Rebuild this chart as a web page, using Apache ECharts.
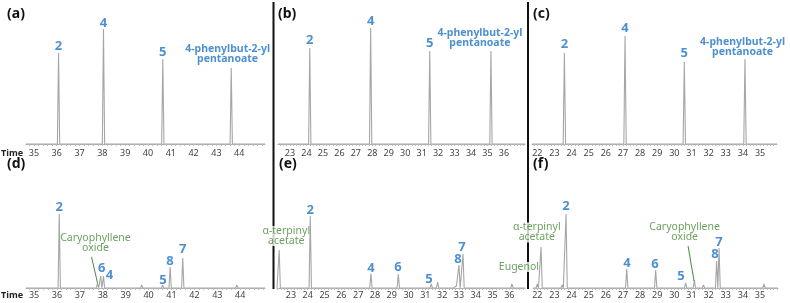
<!DOCTYPE html>
<html>
<head>
    <meta charset="utf-8">
    <title>GC chromatograms</title>
    <style>
        html, body { margin: 0; padding: 0; background: #fff; }
        #chart { width: 790px; height: 303px; }
    </style>
</head>
<body>
    <div id="chart"></div>
    <script src="https://cdn.jsdelivr.net/npm/echarts@6/dist/echarts.min.js"></script>
    <script>
        var chart = echarts.init(document.getElementById('chart'));

        // tick labels (retention time, min)
        var ticksA = [35, 36, 37, 38, 39, 40, 41, 42, 43, 44];
        var ticksB = [23, 24, 25, 26, 27, 28, 29, 30, 31, 32, 33, 34, 35, 36];
        var ticksC = [22, 23, 24, 25, 26, 27, 28, 29, 30, 31, 32, 33, 34, 35];
        var ticksD = [35, 36, 37, 38, 39, 40, 41, 42, 43, 44];
        var ticksE = [23, 24, 25, 26, 27, 28, 29, 30, 31, 32, 33, 34, 35, 36];
        var ticksF = [22, 23, 24, 25, 26, 27, 28, 29, 30, 31, 32, 33, 34, 35];

        // peaks: retention time and height (arbitrary units)
        var timeA = [36.08, 38.05, 40.65, 43.65];
        var heightA = [91, 115, 85, 76];
        var timeB = [24.2, 27.9, 31.49, 35.21];
        var heightB = [96, 116, 93, 93];
        var timeC = [23.58, 27.12, 30.58, 34.12];
        var heightC = [91, 108, 82, 85];
        var timeD = [36.1, 37.77, 37.91, 38.03, 39.7, 40.61, 40.94, 41.49, 42.4, 43.85, 43.95];
        var heightD = [74, 5, 12, 12, 3, 3, 21, 30, 1.5, 3, 2];
        var timeE = [22.3, 23.5, 24.15, 27.2, 27.76, 28.9, 29.39, 31.35, 31.73, 32.6, 32.85, 33.0, 33.24, 36.15];
        var heightE = [38, 2, 72, 1.5, 14.5, 1.5, 14, 4, 6, 2, 2, 23, 34, 4];
        var timeF = [22.0, 22.22, 23.45, 23.68, 27.22, 28.91, 30.66, 31.17, 31.7, 32.47, 32.61, 35.23];
        var heightF = [4, 41, 3, 74, 19, 18, 5, 8, 3, 27, 40, 4];

        // peak labels: text and anchor (time, height)
        var numA = ['2', '4', '5'];     var numAx = [36.08, 38.05, 40.65]; var numAy = [98, 121, 92];
        var numB = ['2', '4', '5'];     var numBx = [24.2, 27.9, 31.49];   var numBy = [104, 123, 101];
        var numC = ['2', '4', '5'];     var numCx = [23.58, 27.12, 30.58]; var numCy = [100, 116, 91];
        var numD = ['2', '6', '4', '5', '8', '7'];
        var numDx = [36.1, 37.95, 38.29, 40.63, 40.93, 41.49];
        var numDy = [81, 20, 13, 8, 27, 39];
        var numE = ['2', '4', '6', '5', '8', '7'];
        var numEx = [24.14, 27.76, 29.37, 31.21, 32.94, 33.18];
        var numEy = [78, 20, 21, 9, 29, 41];
        var numF = ['2', '4', '6', '5', '8', '7'];
        var numFx = [23.67, 27.24, 28.87, 30.39, 32.37, 32.6];
        var numFy = [82, 25, 24, 12, 34, 46];

        var stdName = '4-phenylbut-2-yl\npentanoate';
        var stdX = [43.49, 34.54, 33.98];
        var stdY = [90, 105.5, 96.5];

        var greenD = ['Caryophyllene\noxide'];            var greenDx = [37.68];        var greenDy = [45];
        var greenE = ['α-terpinyl\nacetate'];             var greenEx = [22.72];        var greenEy = [52];
        var greenF = ['α-terpinyl\nacetate', 'Eugenol', 'Caryophyllene\noxide'];
        var greenFx = [21.97, 20.93, 30.6];
        var greenFy = [55.5, 21, 55.5];

        // arrows: [fromTime, fromHeight, toTime, toHeight]
        var arrowsD = [[37.51, 31, 37.77, 5]];
        var arrowsF = [[21.71, 16, 21.98, 4], [30.8, 42, 31.15, 7]];

        var blue = '#1f74c6';
        var green = '#458a36';
        var font = 'Noto Sans';

        var panels = [
            { tag: '(a)', tagLeft: 7, left: 22, width: 243, top: 0, height: 144, min: 34.655, max: 45.13, w: 0.05,
              ticks: ticksA, t: timeA, h: heightA, n: numA, nx: numAx, ny: numAy, std: 0, time: true },
            { tag: '(b)', tagLeft: 278, left: 278, width: 247, top: 0, height: 144, min: 22.27, max: 37.28, w: 0.07,
              ticks: ticksB, t: timeB, h: heightB, n: numB, nx: numBx, ny: numBy, std: 1 },
            { tag: '(c)', tagLeft: 533, left: 532, width: 245, top: 0, height: 144, min: 21.69, max: 35.99, w: 0.07,
              ticks: ticksC, t: timeC, h: heightC, n: numC, nx: numCx, ny: numCy, std: 2 },
            { tag: '(d)', tagLeft: 7, left: 24, width: 241, top: 150, height: 138, min: 34.65, max: 45.08, w: 0.05,
              ticks: ticksD, t: timeD, h: heightD, n: numD, nx: numDx, ny: numDy, time: true,
              g: greenD, gx: greenDx, gy: greenDy, arrows: arrowsD },
            { tag: '(e)', tagLeft: 279, left: 277, width: 248, top: 150, height: 138, min: 22.17, max: 36.93, w: 0.07,
              ticks: ticksE, t: timeE, h: heightE, n: numE, nx: numEx, ny: numEy,
              g: greenE, gx: greenEx, gy: greenEy, arrows: [] },
            { tag: '(f)', tagLeft: 533, left: 533, width: 245, top: 150, height: 138, min: 21.75, max: 36.05, w: 0.07,
              ticks: ticksF, t: timeF, h: heightF, n: numF, nx: numFx, ny: numFy,
              g: greenF, gx: greenFx, gy: greenFy, arrows: arrowsF }
        ];

        // narrow triangular peak on a flat baseline
        function peakLine(times, heights, min, max, w) {
            var order = times.map(function (t, i) { return i; }).sort(function (a, b) { return times[a] - times[b]; });
            var pts = [[min, 0]];
            order.forEach(function (i) {
                pts.push([times[i] - w, 0], [times[i], heights[i]], [times[i] + w, 0]);
            });
            pts.push([max, 0]);
            return pts;
        }

        function minorTicks(min, max) {
            var res = [];
            for (var k = Math.ceil(min * 5); k <= Math.floor(max * 5); k++) res.push(k / 5);
            return res;
        }

        var grid = [], xAxis = [], yAxis = [], series = [], title = [];

        panels.forEach(function (p, i) {
            grid.push({ left: p.left, top: p.top, width: p.width, height: p.height });
            title.push({
                text: p.tag, left: p.tagLeft, top: p.top + 7, padding: 0,
                textStyle: { fontSize: 14, fontWeight: 'bold', color: '#111', fontFamily: font }
            });
            xAxis.push({
                type: 'value', gridIndex: i, min: p.min, max: p.max,
                name: p.time ? 'Time' : '', nameLocation: 'start', nameGap: 3,
                nameTextStyle: { fontSize: 9, fontWeight: 'bold', color: '#222', fontFamily: font,
                                 verticalAlign: 'top', padding: [p.top ? 3 : 5, 0, 0, 0] },
                axisLine: { show: true, lineStyle: { color: '#b0b0b0', width: 1 } },
                axisTick: { show: true, customValues: minorTicks(p.min, p.max), length: 2,
                            lineStyle: { color: '#bdbdbd', width: 1 } },
                axisLabel: { customValues: p.ticks, fontSize: 9, color: '#444', fontFamily: font,
                             margin: p.top ? 3 : 5 },
                splitLine: { show: false }
            });
            yAxis.push({ type: 'value', gridIndex: i, min: 0, max: p.height, show: false });

            series.push({
                type: 'line', xAxisIndex: i, yAxisIndex: i, silent: true, z: 3,
                symbol: 'none', animation: false,
                lineStyle: { color: '#a6a6a6', width: 1.1 },
                data: peakLine(p.t, p.h, p.min, p.max, p.w)
            });

            var numData = p.n.map(function (name, k) { return { name: name, value: [p.nx[k], p.ny[k]] }; });
            if (p.std !== undefined) {
                numData.push({
                    name: stdName, value: [stdX[p.std], stdY[p.std]],
                    label: { fontSize: 10.5, lineHeight: 10 }
                });
            }
            series.push({
                type: 'scatter', xAxisIndex: i, yAxisIndex: i, silent: true, clip: false,
                symbolSize: 0, animation: false, z: 5,
                label: { show: true, position: 'inside', formatter: '{b}', color: blue,
                         fontFamily: font, fontWeight: 'bold', fontSize: 13 },
                data: numData
            });

            if (p.g) {
                // green annotations sit under the traces but over the panel dividers
                series.push({
                    type: 'scatter', xAxisIndex: i, yAxisIndex: i, silent: true, clip: false,
                    symbolSize: 0, animation: false, z: 1,
                    label: { show: true, position: 'inside', formatter: '{b}', color: green,
                             fontFamily: font, fontSize: 10.5, lineHeight: 10,
                             backgroundColor: '#fff', padding: 0 },
                    data: p.g.map(function (name, k) { return { name: name, value: [p.gx[k], p.gy[k]] }; }),
                    markLine: {
                        silent: true, animation: false,
                        symbol: ['none', 'arrow'], symbolSize: [0, 5],
                        label: { show: false },
                        lineStyle: { color: green, width: 1, type: 'solid' },
                        data: p.arrows.map(function (a) {
                            return [{ coord: [a[0], a[1]] }, { coord: [a[2], a[3]] }];
                        })
                    }
                });
            }
        });

        var option = {
            backgroundColor: '#fff',
            animation: false,
            title: title,
            grid: grid,
            xAxis: xAxis,
            yAxis: yAxis,
            series: series,
            graphic: [
                { type: 'line', z: 0, shape: { x1: 273.5, y1: 2, x2: 273.5, y2: 289 },
                  style: { stroke: '#111', lineWidth: 2 } },
                { type: 'line', z: 0, shape: { x1: 528, y1: 2, x2: 528, y2: 289 },
                  style: { stroke: '#111', lineWidth: 2 } }
            ]
        };

        chart.setOption(option);
        window.addEventListener('resize', function () {
            chart.resize();
        });
    </script>
</body>
</html>
